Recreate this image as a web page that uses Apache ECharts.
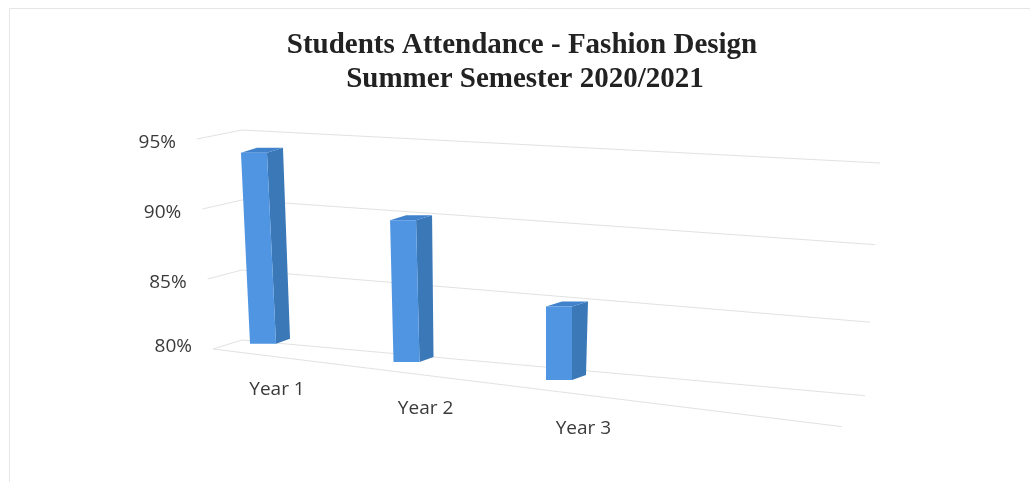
<!DOCTYPE html>
<html>
<head>
<meta charset="utf-8">
<script src="https://cdn.jsdelivr.net/npm/echarts@6/dist/echarts.min.js"></script>
<style>
  html, body { margin: 0; padding: 0; background: #fff; }
  #chart { width: 1030px; height: 482px; }
</style>
</head>
<body>
<div id="chart"></div>
<script>
const categories = ['Year 1', 'Year 2', 'Year 3'];
const attendance = [93.6, 89.9, 85.1];
const yTicks = [80, 85, 90, 95];

const chart = echarts.init(document.getElementById('chart'));

// fake 3d: back wall lines drop toward the right, bars stand a little in front
const wallY = (px, py, baseY, cs) => {
  const t = (px - cs.x) / cs.width;
  const k = (baseY - py) / 70;
  return py + t * (57 - 2 * k - 2 * k * k);
};
const barDrop = px => 2 + (px - 265) * 0.033;
// small horizontal perspective correction for the bar positions
const warpX = px => px + 0.000205 * (px - 263) * (px - 559);

const gridColor = '#e2e2e2';
const labelFont = '19px "Open Sans"';

function renderWall(params, api) {
  const cs = params.coordSys;
  const v = api.value(1);
  const baseY = api.coord([0, yTicks[0]])[1];
  const cy = api.coord([0, v])[1];
  const dv = v - yTicks[0];
  const corner = [cs.x, cy];
  const rx = cs.x + cs.width - (yTicks[yTicks.length - 1] - v) * 1.0;
  const right = [rx, wallY(rx, cy, baseY, cs)];
  const front = [cs.x - 29 - dv * 1.07, cy + 9];
  const children = [
    {
      type: 'polyline',
      shape: { points: [front, corner, right] },
      style: { stroke: gridColor, lineWidth: 1, fill: null }
    },
    {
      type: 'text',
      style: {
        text: v + '%', x: front[0] - 21, y: cy + 7 + Math.min(dv, 5) * 1.2,
        align: 'right', verticalAlign: 'middle',
        font: labelFont, fill: '#3a3a3a'
      }
    }
  ];
  if (v === yTicks[0]) {
    // front edge of the floor
    children.push({
      type: 'line',
      shape: { x1: front[0], y1: front[1], x2: right[0] - 23, y2: right[1] + 31 },
      style: { stroke: gridColor, lineWidth: 1 }
    });
  }
  return { type: 'group', children };
}

function renderBar(params, api) {
  const cs = params.coordSys;
  const i = api.value(0);
  const v = api.value(1);
  const base = api.coord([i, yTicks[0]]);
  const top = api.coord([i, v]);
  const px = base[0];
  const bx = warpX(px);
  const drop = barDrop(px);
  const y0 = wallY(px, base[1], base[1], cs) + drop;
  const y1 = wallY(px, top[1], base[1], cs) + drop;
  const lean = (559 - bx) * 0.00016 * (y0 - y1);
  const hw = 13, dx = 16, dy = -5;
  const bl = [bx - hw, y0], br = [bx + hw, y0];
  const tr = [bx + hw - lean, y1], tl = [bx - hw - lean, y1];
  return {
    type: 'group',
    children: [
      {
        type: 'polygon',
        shape: { points: [br, tr, [tr[0] + dx, tr[1] + dy], [br[0] + dx - 2, br[1] + dy]] },
        style: { fill: '#3a78b8' }
      },
      {
        type: 'polygon',
        shape: { points: [tl, tr, [tr[0] + dx, tr[1] + dy], [tl[0] + dx, tl[1] + dy]] },
        style: { fill: '#4182cc' }
      },
      {
        type: 'polygon',
        shape: { points: [bl, br, tr, tl] },
        style: { fill: '#4f95e2' }
      },
      {
        type: 'text',
        style: {
          text: categories[i],
          x: bx + 14 + (bx - 263) * 0.035, y: y0 + 45.5 + (bx - 263) * 0.01,
          align: 'center', verticalAlign: 'middle',
          font: labelFont, fill: '#3a3a3a'
        }
      }
    ]
  };
}

const option = {
  animation: false,
  backgroundColor: '#fff',
  grid: { left: 242, right: 150, top: 130, bottom: 142 },
  xAxis: { type: 'value', min: -0.142, max: 4.169, show: false },
  yAxis: { type: 'value', min: 80, max: 95, show: false },
  graphic: [
    {
      type: 'rect',
      shape: { x: 9.5, y: 8.5, width: 1100, height: 600 },
      style: { fill: null, stroke: '#e6e6e6', lineWidth: 1 }
    },
    {
      type: 'text', x: 522, y: 46,
      style: {
        text: 'Students Attendance - Fashion Design',
        align: 'center', verticalAlign: 'middle',
        font: 'bold 29px "Liberation Serif"', fill: '#222'
      }
    },
    {
      type: 'text', x: 525, y: 80,
      style: {
        text: 'Summer Semester 2020/2021',
        align: 'center', verticalAlign: 'middle',
        font: 'bold 29px "Liberation Serif"', fill: '#222'
      }
    }
  ],
  series: [
    {
      type: 'custom',
      clip: false,
      silent: true,
      renderItem: renderWall,
      data: yTicks.map(v => [0, v])
    },
    {
      type: 'custom',
      clip: false,
      renderItem: renderBar,
      data: attendance.map((v, i) => [i, v])
    }
  ]
};

chart.setOption(option);
window.addEventListener('resize', () => chart.resize());
</script>
</body>
</html>
